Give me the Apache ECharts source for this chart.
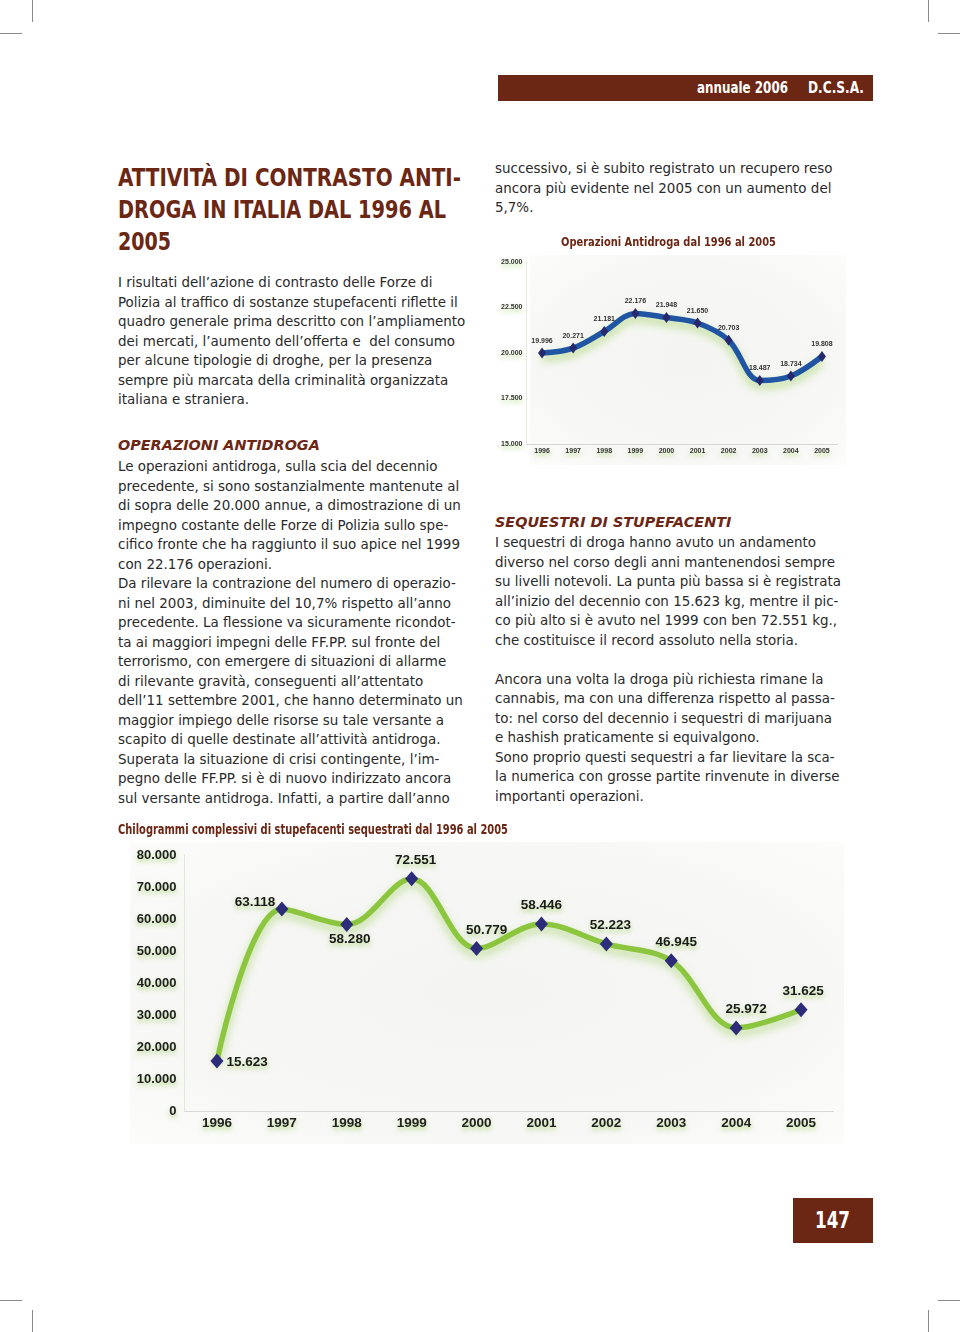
<!DOCTYPE html>
<html><head><meta charset="utf-8">
<script src="https://cdn.jsdelivr.net/npm/echarts@6/dist/echarts.min.js"></script>
<style>
html,body{margin:0;padding:0;background:#fff;}
#page{position:relative;width:960px;height:1332px;overflow:hidden;background:#fff;}
.abs{position:absolute;}
.body{font-family:"DejaVu Sans",Verdana,sans-serif;font-size:13.45px;line-height:19.52px;color:#2a2a2a;white-space:pre;}
.head{font-family:"DejaVu Sans",Verdana,sans-serif;font-weight:bold;font-style:italic;color:#6c2614;font-size:14.4px;white-space:pre;}
.cond{font-family:"DejaVu Sans Condensed","DejaVu Sans",sans-serif;font-weight:bold;white-space:pre;position:absolute;transform-origin:0 0;}
.mark{position:absolute;background:#8a8a8a;}
.tl{font-size:24px;line-height:32px;color:#6c2614;left:118px;}
#bar{left:498px;top:75px;width:375px;height:26px;background:#6c2614;}
#bar .cond{top:0;color:#fff;font-size:15px;line-height:26px;}
#pg{left:793px;top:1198px;width:80px;height:45px;background:#6c2614;}
#pg .cond{color:#fff;font-size:23px;line-height:45px;top:0;}
.ct{font-size:13px;line-height:16px;color:#6c2614;}
.panel{position:absolute;background:radial-gradient(ellipse at center,#f4f5f2 0%,#f7f7f5 65%,#fcfcfb 100%);}
</style></head>
<body><div id="page">
<div class="mark" style="left:32px;top:0;width:1px;height:22px"></div>
<div class="mark" style="left:0;top:33px;width:22px;height:1px"></div>
<div class="mark" style="left:928px;top:0;width:1px;height:22px"></div>
<div class="mark" style="left:938px;top:33px;width:22px;height:1px"></div>
<div class="mark" style="left:0;top:1300px;width:22px;height:1px"></div>
<div class="mark" style="left:32px;top:1310px;width:1px;height:22px"></div>
<div class="mark" style="left:938px;top:1300px;width:22px;height:1px"></div>
<div class="mark" style="left:928px;top:1310px;width:1px;height:22px"></div>

<div class="panel" style="left:530px;top:255px;width:316px;height:210px"></div>
<div class="panel" style="left:130px;top:842px;width:714px;height:302px"></div>

<div id="bar" class="abs"><span class="cond" style="left:199px" data-w="91">annuale 2006</span><span class="cond" style="left:310px" data-w="56">D.C.S.A.</span></div>

<div class="cond tl" style="top:162px" data-w="343">ATTIVITÀ DI CONTRASTO ANTI-</div>
<div class="cond tl" style="top:194px" data-w="328">DROGA IN ITALIA DAL 1996 AL</div>
<div class="cond tl" style="top:226px" data-w="53">2005</div>

<div class="abs body" style="left:118px;top:273px">I risultati dell’azione di contrasto delle Forze di
Polizia al traffico di sostanze stupefacenti riflette il
quadro generale prima descritto con l’ampliamento
dei mercati, l’aumento dell’offerta e  del consumo
per alcune tipologie di droghe, per la presenza
sempre più marcata della criminalità organizzata
italiana e straniera.</div>

<div class="abs head" style="left:118px;top:437px">OPERAZIONI ANTIDROGA</div>
<div class="abs body" style="left:118px;top:457px">Le operazioni antidroga, sulla scia del decennio
precedente, si sono sostanzialmente mantenute al
di sopra delle 20.000 annue, a dimostrazione di un
impegno costante delle Forze di Polizia sullo spe-
cifico fronte che ha raggiunto il suo apice nel 1999
con 22.176 operazioni.
Da rilevare la contrazione del numero di operazio-
ni nel 2003, diminuite del 10,7% rispetto all’anno
precedente. La flessione va sicuramente ricondot-
ta ai maggiori impegni delle FF.PP. sul fronte del
terrorismo, con emergere di situazioni di allarme
di rilevante gravità, conseguenti all’attentato
dell’11 settembre 2001, che hanno determinato un
maggior impiego delle risorse su tale versante a
scapito di quelle destinate all’attività antidroga.
Superata la situazione di crisi contingente, l’im-
pegno delle FF.PP. si è di nuovo indirizzato ancora
sul versante antidroga. Infatti, a partire dall’anno</div>

<div class="abs body" style="left:495px;top:159px">successivo, si è subito registrato un recupero reso
ancora più evidente nel 2005 con un aumento del
5,7%.</div>

<div class="abs head" style="left:495px;top:514px">SEQUESTRI DI STUPEFACENTI</div>
<div class="abs body" style="left:495px;top:533px">I sequestri di droga hanno avuto un andamento
diverso nel corso degli anni mantenendosi sempre
su livelli notevoli. La punta più bassa si è registrata
all’inizio del decennio con 15.623 kg, mentre il pic-
co più alto si è avuto nel 1999 con ben 72.551 kg.,
che costituisce il record assoluto nella storia.

Ancora una volta la droga più richiesta rimane la
cannabis, ma con una differenza rispetto al passa-
to: nel corso del decennio i sequestri di marijuana
e hashish praticamente si equivalgono.
Sono proprio questi sequestri a far lievitare la sca-
la numerica con grosse partite rinvenute in diverse
importanti operazioni.</div>

<div id="c1" class="abs" style="left:488px;top:228px;width:360px;height:240px"></div>
<div id="c2" class="abs" style="left:110px;top:815px;width:745px;height:335px"></div>
<div id="t1" class="cond ct" style="left:561px;top:234px" data-w="215"></div>
<div id="t2" class="cond ct" style="left:118px;top:821px;font-size:14px" data-w="390"></div>

<div id="pg" class="abs"><span class="cond" style="left:22px" data-w="35">147</span></div>
</div>
<script>
const years = ['1996','1997','1998','1999','2000','2001','2002','2003','2004','2005'];
const operazioni = [19996,20271,21181,22176,21948,21650,20703,18487,18734,19808];
const sequestriKg = [15623,63118,58280,72551,50779,58446,52223,46945,25972,31625];
const opAxis = {min:15000, max:25000, step:2500};
const kgAxis = {min:0, max:80000, step:10000};
const chart1Title = 'Operazioni Antidroga dal 1996 al 2005';
const chart2Title = 'Chilogrammi complessivi di stupefacenti sequestrati dal 1996 al 2005';

document.getElementById('t1').textContent = chart1Title;
document.getElementById('t2').textContent = chart2Title;
document.querySelectorAll('[data-w]').forEach(el=>{
  const w = el.getBoundingClientRect().width;
  el.style.transform = 'scaleX(' + (parseFloat(el.dataset.w)/w) + ')';
});

function fmt(n){ return String(n).replace(/\B(?=(\d{3})+(?!\d))/g,'.'); }
const SANS = '"Liberation Sans",Arial,sans-serif';
const glow = {textShadowColor:'rgba(130,195,50,0.55)', textShadowBlur:5, textShadowOffsetY:3};

const c1 = echarts.init(document.getElementById('c1'), null, {renderer:'canvas'});
c1.setOption({
  animation:false,
  grid:{left:38.5, top:34, width:311, height:182},
  xAxis:{type:'category', data:years, boundaryGap:true,
    axisLine:{lineStyle:{color:'#d6d6d6'}}, axisTick:{show:false},
    axisLabel:{margin:4, fontFamily:SANS, fontWeight:'bold', fontSize:7, color:'#333', ...glow}},
  yAxis:{type:'value', min:opAxis.min, max:opAxis.max, interval:opAxis.step,
    axisLine:{show:true, lineStyle:{color:'#e6eede'}}, axisTick:{show:false}, splitLine:{show:false},
    axisLabel:{margin:4, formatter:v=>fmt(v), fontFamily:SANS, fontWeight:'bold', fontSize:7, color:'#333', ...glow}},
  series:[{type:'line', data:operazioni, smooth:0.35, symbol:'diamond', symbolSize:[8,11],
    lineStyle:{color:'#1f55a2', width:5.5, shadowColor:'rgba(130,195,50,0.55)', shadowBlur:8, shadowOffsetY:5},
    itemStyle:{color:'#27296f'},
    label:{show:true, position:'top', distance:3, formatter:p=>fmt(p.value), fontFamily:SANS, fontWeight:'bold', fontSize:7, color:'#333'}}]
});

const placements = [
  {position:'right', distance:3, offset:[0,1]},
  {position:'left', distance:2, offset:[2,-7]},
  {position:'bottom', distance:1, offset:[3,-1]},
  {position:'top', distance:4, offset:[4,0]},
  {position:'top', distance:4, offset:[10,0]},
  {position:'top', distance:4, offset:[0,0]},
  {position:'top', distance:4, offset:[4,0]},
  {position:'top', distance:4, offset:[5,0]},
  {position:'top', distance:4, offset:[10,0]},
  {position:'top', distance:4, offset:[2,0]}
];
const c2 = echarts.init(document.getElementById('c2'), null, {renderer:'canvas'});
c2.setOption({
  animation:false,
  grid:{left:74.5, top:40, width:649, height:256},
  xAxis:{type:'category', data:years, boundaryGap:true,
    axisLine:{lineStyle:{color:'#d9d9d9'}}, axisTick:{show:false},
    axisLabel:{margin:5, fontFamily:SANS, fontWeight:'bold', fontSize:13.5, color:'#222', ...glow}},
  yAxis:{type:'value', min:kgAxis.min, max:kgAxis.max, interval:kgAxis.step,
    axisLine:{show:true, lineStyle:{color:'#e2e8da'}}, axisTick:{show:false}, splitLine:{show:false},
    axisLabel:{margin:8, formatter:v=>fmt(v), fontFamily:SANS, fontWeight:'bold', fontSize:13, color:'#222', ...glow}},
  series:[{type:'line', smooth:0.35, symbol:'diamond', symbolSize:[13,15],
    data:sequestriKg.map((v,i)=>({value:v, label:placements[i]})),
    lineStyle:{color:'#8cc63f', width:5.5, shadowColor:'rgba(130,195,50,0.5)', shadowBlur:8, shadowOffsetY:5},
    itemStyle:{color:'#2c2c7a'},
    label:{show:true, formatter:p=>fmt(p.value), fontFamily:SANS, fontWeight:'bold', fontSize:13.5, color:'#1a1a1a', ...glow}}]
});
</script>
</body></html>
